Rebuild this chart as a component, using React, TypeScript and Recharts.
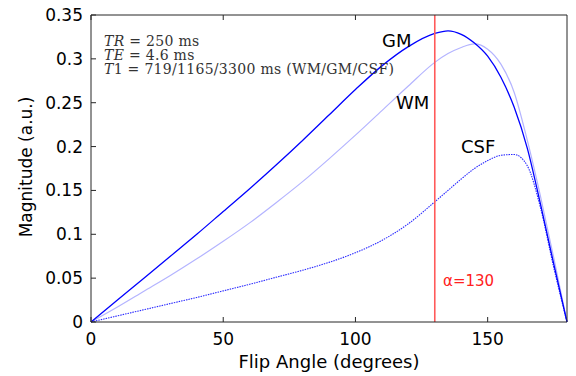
import { LineChart, Line, XAxis, YAxis, ReferenceLine } from 'recharts'

// flip angle (degrees) and signal magnitude (a.u.)
const angles = [0, 10, 20, 30, 40, 50, 60, 70, 80, 90, 100, 110, 120, 130, 135, 140, 145, 150, 155, 160, 165, 170, 175, 180]
const gm = [0, 0.025, 0.05, 0.075, 0.1, 0.126, 0.152, 0.179, 0.207, 0.236, 0.265, 0.292, 0.314, 0.329, 0.332, 0.328, 0.318, 0.303, 0.279, 0.245, 0.198, 0.134, 0.066, 0]
const wm = [0, 0.017, 0.035, 0.053, 0.072, 0.092, 0.113, 0.136, 0.16, 0.186, 0.213, 0.241, 0.269, 0.296, 0.306, 0.313, 0.317, 0.311, 0.294, 0.262, 0.207, 0.143, 0.073, 0]
const csf = [0, 0.007, 0.014, 0.021, 0.028, 0.0355, 0.043, 0.051, 0.059, 0.068, 0.079, 0.093, 0.112, 0.137, 0.15, 0.163, 0.175, 0.184, 0.19, 0.191, 0.178, 0.13, 0.062, 0]

const xTicks = [0, 50, 100, 150]
const yTicks = [0, 0.05, 0.1, 0.15, 0.2, 0.25, 0.3, 0.35]
const alpha = 130

const data = angles.map((a, i) => ({ angle: a, GM: gm[i], WM: wm[i], CSF: csf[i] }))

const sans = '"DejaVu Sans", Arial, sans-serif'
const serif = '"DejaVu Serif", "Liberation Serif", serif'
const axisColor = '#262626'
const tickStyle = { fontSize: 17, fill: '#000', fontFamily: sans }

export default function App() {
  return (
    <div style={{ position: 'fixed', left: 0, top: 0, width: 576, height: 376, background: '#fff' }}>
      <LineChart width={576} height={376} data={data} margin={{ top: 14, right: 8, left: 0, bottom: 0 }}>
        <XAxis
          dataKey="angle"
          type="number"
          domain={[0, 180]}
          ticks={xTicks}
          height={54}
          tickSize={-5}
          tickMargin={16}
          tick={tickStyle}
          stroke={axisColor}
        />
        <XAxis
          xAxisId="top"
          dataKey="angle"
          type="number"
          orientation="top"
          domain={[0, 180]}
          ticks={xTicks}
          height={1}
          tickSize={-5}
          tickFormatter={() => ''}
          stroke={axisColor}
        />
        <YAxis
          type="number"
          domain={[0, 0.35]}
          ticks={yTicks}
          width={91}
          tickSize={-5}
          tickMargin={13}
          tick={tickStyle}
          stroke={axisColor}
        />
        <YAxis
          yAxisId="right"
          orientation="right"
          type="number"
          domain={[0, 0.35]}
          ticks={yTicks}
          width={1}
          tickSize={-5}
          tickFormatter={() => ''}
          stroke={axisColor}
        />
        <Line dataKey="WM" type="monotone" stroke="#b4b4ff" strokeWidth={1.2} dot={false} isAnimationActive={false} />
        <Line dataKey="CSF" type="monotone" stroke="#2b2bff" strokeWidth={1.1} strokeDasharray="1.5 1" dot={false} isAnimationActive={false} />
        <Line dataKey="GM" type="monotone" stroke="#0000ff" strokeWidth={1.3} dot={false} isAnimationActive={false} />
        <ReferenceLine x={alpha} stroke="#ff5a5a" strokeWidth={1.6} />
      </LineChart>
      <svg width={576} height={376} style={{ position: 'absolute', left: 0, top: 0, pointerEvents: 'none' }}>
        <g fontFamily={serif} fontSize={14} letterSpacing={0.3} fill="#333">
          <text x={104} y={45.5}>
            <tspan fontStyle="italic">TR</tspan> = 250 ms
          </text>
          <text x={104} y={59.5}>
            <tspan fontStyle="italic">TE</tspan> = 4.6 ms
          </text>
          <text x={104} y={73.5}>
            <tspan fontStyle="italic">T</tspan>1 = 719/1165/3300 ms (WM/GM/CSF)
          </text>
        </g>
        <g fontFamily={sans} fontSize={18} fill="#000">
          <text x={382} y={47}>GM</text>
          <text x={396} y={109}>WM</text>
          <text x={461} y={153}>CSF</text>
          <text x={329} y={368} textAnchor="middle">Flip Angle (degrees)</text>
          <text x={0} y={0} fontSize={17} textAnchor="middle" transform="translate(32,167) rotate(-90)">
            Magnitude (a.u.)
          </text>
        </g>
        <text x={443} y={286} fontFamily={sans} fontSize={15} fill="#ff2020">
          α=130
        </text>
      </svg>
    </div>
  )
}
